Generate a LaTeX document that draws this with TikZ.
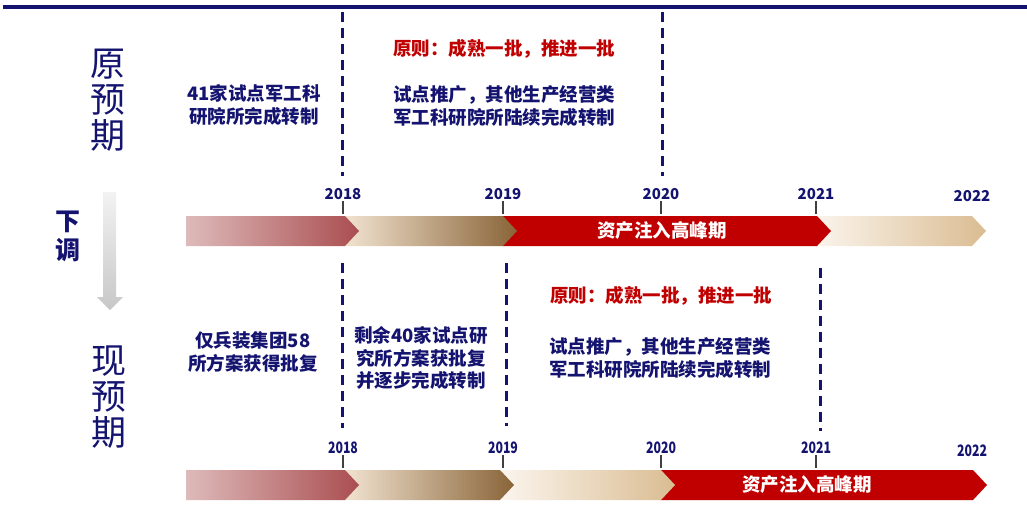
\documentclass[tikz,border=0pt]{standalone}
\usepackage{fontspec}
\setmainfont{Noto Sans CJK SC}
\usetikzlibrary{positioning}
\definecolor{navy}{RGB}{20,20,112}
\definecolor{deepred}{RGB}{192,0,0}
\definecolor{roseA}{RGB}{222,186,186}
\definecolor{roseB}{RGB}{170,78,80}
\definecolor{sandA}{RGB}{241,227,208}
\definecolor{sandB}{RGB}{138,100,56}
\definecolor{paleA}{RGB}{251,245,237}
\definecolor{paleB}{RGB}{218,188,146}

\begin{document}
\begin{tikzpicture}[x=1pt, y=-1pt,
    body/.style={font=\bfseries\fontsize{18.5}{22.5}\selectfont, text=navy, align=center, inner sep=0pt},
    rule/.style={body, text=deepred},
    peak/.style={body, text=white},
    year/.style={font=\bfseries\fontsize{15}{15}\selectfont, text=navy, inner sep=0pt},
    phase/.style={font=\fontsize{35}{36}\selectfont, text=navy, align=center, inner sep=0pt},
    guide/.style={draw=navy, line width=3pt, dash pattern=on 10pt off 6pt},
    tick/.style={draw=black!75, line width=1.4pt}]
  \useasboundingbox (0,0) rectangle (1027,506);

  % top rule
  \draw[navy, line width=4.5pt] (3,7) -- (1027,7);

  % upper timeline (right to left so tips overlap)
  \shade[left color=paleA, right color=paleB] (815,216) -- (972,216) -- (986,231) -- (972,246) -- (815,246) -- cycle;
  \fill[deepred] (503,216) -- (817,216) -- (831,231) -- (817,246) -- (503,246) -- cycle;
  \shade[left color=sandA, right color=sandB] (345,216) -- (503,216) -- (517,231) -- (503,246) -- (345,246) -- cycle;
  \shade[left color=roseA, right color=roseB] (186,216) -- (345,216) -- (359,231) -- (345,246) -- (186,246) -- cycle;
  \node[peak] (peakA) at (662,231) {资产注入高峰期};

  % lower timeline
  \fill[deepred] (660,470) -- (973,470) -- (987,485) -- (973,500) -- (660,500) -- cycle;
  \shade[left color=paleA, right color=paleB] (502,470) -- (661,470) -- (675,485) -- (661,500) -- (502,500) -- cycle;
  \shade[left color=sandA, right color=sandB] (345,470) -- (500,470) -- (514,485) -- (500,500) -- (345,500) -- cycle;
  \shade[left color=roseA, right color=roseB] (186,470) -- (345,470) -- (359,485) -- (345,500) -- (186,500) -- cycle;
  \node[peak] (peakB) at (807,485) {资产注入高峰期};

  % years and ticks
  \foreach \yr/\x in {2018/343, 2019/503, 2020/661, 2021/816} {
    \node[year] (up\yr) at (\x,194) {\yr};
    \draw[tick] (\x,201) -- (\x,214);
    \node[year] (lo\yr) at (\x,448) {\scalebox{0.82}[1.05]{\yr}};
    \draw[tick] (\x,455) -- (\x,468);
  }
  \node[year] (up2022) at (972,196) {2022};
  \node[year] (lo2022) at (972,451) {\scalebox{0.82}[1.05]{2022}};

  % dashed guides
  \draw[guide] (342,12) -- (342,176);
  \draw[guide] (662,12) -- (662,176);
  \draw[guide] (342,263) -- (342,428);
  \draw[guide] (506,263) -- (506,426);
  \draw[guide] (820,268) -- (820,431);

  % left labels
  \node[phase] (oldlab) at (108,100) {原\\预\\期};
  \node[phase] (newlab) at (109,397) {现\\预\\期};
  \node[body, font=\bfseries\fontsize{25}{29}\selectfont] (downlab) at (68,236) {下\\调};
  \shade[top color=black!5, bottom color=black!22]
    (103,192) -- (116,192) -- (116,297) -- (123,297) -- (110,310) -- (97,297) -- (103,297) -- cycle;

  % upper texts
  \node[body] (oldA) at (254,105) {41家试点军工科\\研院所完成转制};
  \node[rule] (oldrule) at (504,49) {原则：成熟一批，推进一批};
  \node[body] (oldB) at (504,106) {试点推广，其他生产经营类\\军工科研院所陆续完成转制};

  % lower texts
  \node[body] (newA) at (253,352) {仅兵装集团58\\所方案获得批复};
  \node[body] (newB) at (421,358) {剩余40家试点研\\究所方案获批复\\并逐步完成转制};
  \node[rule] (newrule) at (661,296) {原则：成熟一批，推进一批};
  \node[body] (newC) at (660,358) {试点推广，其他生产经营类\\军工科研院所陆续完成转制};
\end{tikzpicture}
\end{document}
